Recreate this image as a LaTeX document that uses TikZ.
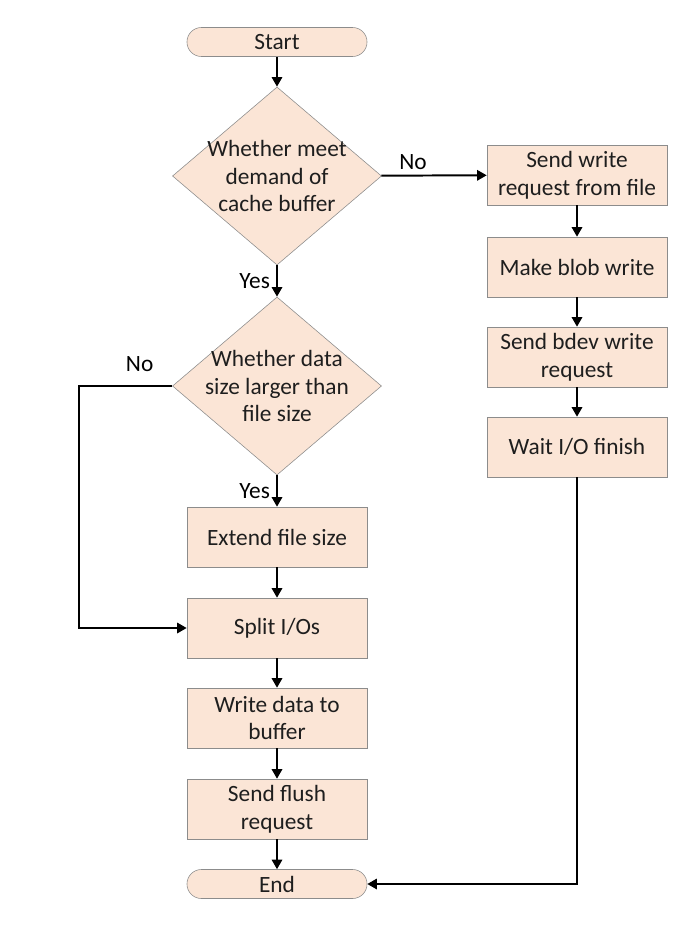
\documentclass[tikz,border=0pt]{standalone}
\usepackage{fontspec}
\setmainfont{Carlito}
\usetikzlibrary{arrows.meta,positioning,shapes.geometric}
\definecolor{boxPeach}{HTML}{FBE5D6}
\definecolor{edgeGrey}{HTML}{8C8C8C}
\definecolor{inkDark}{HTML}{1E1E1E}

\begin{document}
\begin{tikzpicture}[x=0.025cm,y=-0.025cm,
  font=\fontsize{16.6}{19.8}\selectfont,text=inkDark,
  stepbox/.style={draw=edgeGrey,fill=boxPeach,minimum width=4.5cm,minimum height=1.5cm,align=center,inner sep=0pt},
  termbox/.style={draw=edgeGrey,fill=boxPeach,rounded corners=0.36cm,minimum width=4.5cm,minimum height=0.725cm,inner sep=0pt},
  choice/.style={diamond,draw=edgeGrey,fill=boxPeach,minimum width=5.225cm,minimum height=4.45cm,inner sep=0pt,label={[align=center]center:{#1}}},
  flow/.style={-{Triangle[length=0.24cm,width=0.26cm]},line width=1.4pt,black},
  tag/.style={font=\fontsize{16.6}{19}\selectfont}]
  \useasboundingbox (0,0) rectangle (698,946);
  % main column
  \node[termbox] (start) at (277,42) {Start};
  \node[choice={Whether meet\\demand of\\cache buffer}] (cache) at (277,176) {};
  \node[choice={Whether data\\size larger than\\file size}] (size) at (277,386) {};
  \node[stepbox] (extend) at (277,537) {Extend file size};
  \node[stepbox] (split) at (277,628) {Split I/Os};
  \node[stepbox] (buffer) at (277,718) {Write data to\\buffer};
  \node[stepbox] (flush) at (277,809) {Send flush\\request};
  \node[termbox] (end) at (277,884) {End};
  % right column
  \node[stepbox] (fromfile) at (577,175) {Send write\\request from file};
  \node[stepbox] (blob) at (577,267) {Make blob write};
  \node[stepbox] (bdev) at (577,357) {Send bdev write\\request};
  \node[stepbox] (wait) at (577,447) {Wait I/O finish};
  % connectors
  \draw[flow] (start) -- (cache);
  \draw[flow] (cache) -- node[tag,left=1pt]{Yes} (size);
  \draw[flow] (cache) -- node[tag,above,pos=0.3]{No} (fromfile);
  \draw[flow] (size) -- node[tag,left=1pt]{Yes} (extend);
  \draw[flow] (size.west) -- node[tag,above=6pt,pos=0.35]{No} ++(-93,0) |- (split);
  \draw[flow] (extend) -- (split);
  \draw[flow] (split) -- (buffer);
  \draw[flow] (buffer) -- (flush);
  \draw[flow] (flush) -- (end);
  \draw[flow] (fromfile) -- (blob);
  \draw[flow] (blob) -- (bdev);
  \draw[flow] (bdev) -- (wait);
  \draw[flow] (wait) |- (end);
\end{tikzpicture}
\end{document}
